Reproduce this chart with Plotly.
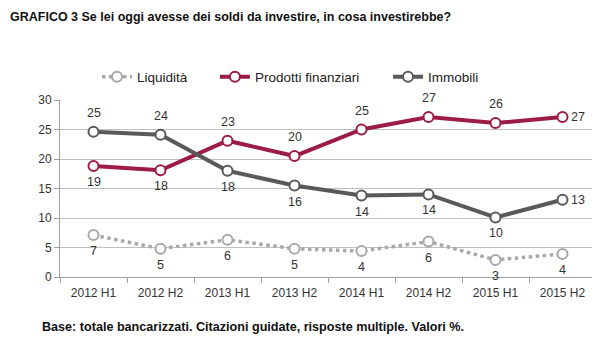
import plotly.graph_objects as go

categories = ["2012 H1", "2012 H2", "2013 H1", "2013 H2", "2014 H1", "2014 H2", "2015 H1", "2015 H2"]
liquidita = [7.1, 4.8, 6.3, 4.8, 4.4, 6.0, 2.9, 3.9]
prodotti = [18.8, 18.1, 23.1, 20.5, 25.0, 27.1, 26.1, 27.1]
immobili = [24.6, 24.1, 18.0, 15.5, 13.8, 14.0, 10.1, 13.1]
liquidita_labels = ["7", "5", "6", "5", "4", "6", "3", "4"]
prodotti_labels = ["19", "18", "23", "20", "25", "27", "26", "27"]
immobili_labels = ["25", "24", "18", "16", "14", "14", "10", "13"]
yticks = [0, 5, 10, 15, 20, 25, 30]

# label placement (style)
liq_pos = ["below"] * 8
prod_pos = ["below", "below", "above", "above", "above", "above", "above", "right"]
imm_pos = ["above", "above", "below", "below", "below", "below", "below", "right"]

C_LIQ = "#a8a8a8"
C_PROD = "#9c1c44"
C_IMM = "#595959"
FONT = "Liberation Sans"

fig = go.Figure()

fig.add_trace(go.Scatter(
    x=categories, y=liquidita, name="Liquidità", mode="lines+markers",
    line=dict(color=C_LIQ, width=3.5, dash="dot"),
    marker=dict(size=10, color="white", line=dict(color=C_LIQ, width=2)),
    cliponaxis=False, legend="legend", showlegend=True,
))
fig.add_trace(go.Scatter(
    x=categories, y=prodotti, name="Prodotti finanziari", mode="lines+markers",
    line=dict(color=C_PROD, width=4),
    marker=dict(size=10, color="white", line=dict(color=C_PROD, width=2)),
    cliponaxis=False, legend="legend2", showlegend=True,
))
fig.add_trace(go.Scatter(
    x=categories, y=immobili, name="Immobili", mode="lines+markers",
    line=dict(color=C_IMM, width=4),
    marker=dict(size=10, color="white", line=dict(color=C_IMM, width=2)),
    cliponaxis=False, legend="legend3", showlegend=True,
))

annotations = []
for vals, labels, pos in [(liquidita, liquidita_labels, liq_pos),
                          (prodotti, prodotti_labels, prod_pos),
                          (immobili, immobili_labels, imm_pos)]:
    for cat, v, lab, p in zip(categories, vals, labels, pos):
        a = dict(x=cat, y=v, xref="x", yref="y", text=lab, showarrow=False,
                 font=dict(family=FONT, size=12.5, color="#333333"))
        if p == "above":
            a.update(yshift=19)
        elif p == "below":
            a.update(yshift=-16)
        else:
            a.update(xshift=15)
        annotations.append(a)

annotations += [
    dict(text="<b>GRAFICO 3 Se lei oggi avesse dei soldi da investire, in cosa investirebbe?</b>",
         xref="paper", yref="paper", x=-0.097, y=1.47, xanchor="left", yanchor="middle",
         showarrow=False, font=dict(family=FONT, size=12.5, color="#111111")),
    dict(text="<b>Base: totale bancarizzati. Citazioni guidate, risposte multiple. Valori %.</b>",
         xref="paper", yref="paper", x=-0.037, y=-0.282, xanchor="left", yanchor="middle",
         showarrow=False, font=dict(family=FONT, size=12.6, color="#111111")),
]

leg_common = dict(orientation="h", y=1.13, xanchor="left", yanchor="middle",
                  font=dict(family=FONT, size=13.5, color="#222222"),
                  itemwidth=30, bgcolor="rgba(0,0,0,0)", visible=True)

fig.update_layout(
    width=592, height=352,
    margin=dict(l=52, r=4, t=92, b=83, autoexpand=False),
    paper_bgcolor="white", plot_bgcolor="white",
    font=dict(family=FONT, size=11, color="#333333"),
    hovermode=False, showlegend=True,
    legend=dict(x=0.069, **leg_common),
    legend2=dict(x=0.289, **leg_common),
    legend3=dict(x=0.612, **leg_common),
    xaxis=dict(
        type="category", range=[-0.5, 7.5], showgrid=False,
        showline=True, linecolor="#a0a0a0", linewidth=1,
        ticks="outside", tickson="boundaries", ticklen=5, tickcolor="#a0a0a0",
        ticklabelstandoff=5,
        tickfont=dict(family=FONT, size=12, color="#333333"),
    ),
    yaxis=dict(
        range=[0, 30], tickvals=yticks, showgrid=True, gridcolor="#bfbfbf", gridwidth=1,
        showline=True, linecolor="#a0a0a0", linewidth=1,
        ticks="outside", ticklen=5, tickcolor="#a0a0a0", zeroline=False,
        tickfont=dict(family=FONT, size=12, color="#333333"),
    ),
    annotations=annotations,
)

fig.write_html("out.html")
